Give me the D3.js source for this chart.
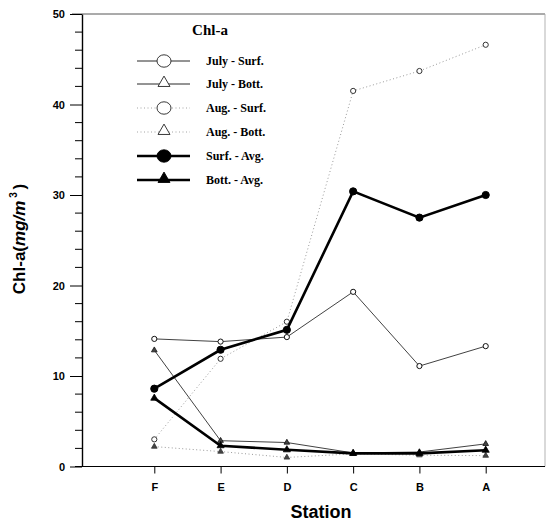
<!DOCTYPE html>
<html>
<head>
<meta charset="utf-8">
<script src="https://cdn.jsdelivr.net/npm/d3@7"></script>
<style>
  body { margin: 0; background: #fff; }
  svg { display: block; }
</style>
</head>
<body>
<div id="chart"></div>
<script>
// values (Chl-a, mg/m3)
const stations = ["F", "E", "D", "C", "B", "A"];
const julySurf = [14.1, 13.8, 14.3, 19.3, 11.1, 13.3];
const julyBott = [12.85, 2.85, 2.65, 1.5, 1.6, 2.5];
const augSurf = [3.0, 11.9, 16.0, 41.5, 43.7, 46.6];
const augBott = [2.2, 1.65, 1.0, 1.4, 1.25, 1.2];
const surfAvg = [8.6, 12.9, 15.1, 30.4, 27.5, 30.0];
const bottAvg = [7.55, 2.3, 1.85, 1.45, 1.45, 1.8];
const yTicks = [0, 10, 20, 30, 40, 50];
const yMinorTicks = d3.range(0, 51, 2);
const legendTitle = "Chl-a";
const legendLabels = ["July - Surf.", "July - Bott.", "Aug. - Surf.", "Aug. - Bott.", "Surf. - Avg.", "Bott. - Avg."];

const W = 547, H = 523;
const plotLeft = 82, plotRight = 545, plotTop = 14, plotBottom = 466.5;

const svg = d3.select("#chart").append("svg")
  .attr("width", W)
  .attr("height", H);

svg.append("rect").attr("width", W).attr("height", H).attr("fill", "#fff");

const x = d3.scalePoint().domain(stations).range([154.3, 485.7]);
const y = d3.scaleLinear().domain([0, 50]).range([plotBottom, plotTop]);

// series styling
const series = [
  { name: legendLabels[2], values: augSurf, marker: "circle", fill: "#fff", stroke: "#9a9a9a", width: 1, dash: "1,2.5", mstroke: "#333" },
  { name: legendLabels[3], values: augBott, marker: "triangle", fill: "#fff", stroke: "#9a9a9a", width: 1, dash: "1,2.5", mstroke: "#333" },
  { name: legendLabels[0], values: julySurf, marker: "circle", fill: "#fff", stroke: "#111", width: 0.8, dash: null, mstroke: "#111" },
  { name: legendLabels[1], values: julyBott, marker: "triangle", fill: "#fff", stroke: "#111", width: 0.8, dash: null, mstroke: "#111" },
  { name: legendLabels[4], values: surfAvg, marker: "circle", fill: "#000", stroke: "#000", width: 2.6, dash: null, mstroke: "#000" },
  { name: legendLabels[5], values: bottAvg, marker: "triangle", fill: "#000", stroke: "#000", width: 2.6, dash: null, mstroke: "#000" }
];

// frame (top and right edges, faint in the scan)
svg.append("line").attr("x1", 72).attr("x2", plotRight).attr("y1", plotTop).attr("y2", plotTop)
  .attr("stroke", "#444").attr("stroke-width", 0.9);
svg.append("line").attr("x1", plotRight).attr("x2", plotRight).attr("y1", plotTop).attr("y2", plotBottom)
  .attr("stroke", "#aaa").attr("stroke-width", 0.9);

// y axis
const yAxis = svg.append("g")
  .attr("transform", `translate(${plotLeft},0)`)
  .call(d3.axisLeft(y).tickValues(yTicks).tickSize(12).tickPadding(5).tickSizeOuter(0));
yAxis.select(".domain").attr("stroke-width", 1.4);
yAxis.selectAll("text")
  .attr("font-family", "Liberation Sans, Arial, sans-serif")
  .attr("font-weight", "bold").attr("font-size", 11);

svg.append("g").selectAll("line")
  .data(yMinorTicks.filter(v => v % 10 !== 0))
  .join("line")
  .attr("x1", plotLeft - 7).attr("x2", plotLeft)
  .attr("y1", d => y(d)).attr("y2", d => y(d))
  .attr("stroke", "#000").attr("stroke-width", 1);

// x axis
svg.append("line").attr("x1", 75).attr("x2", plotRight).attr("y1", plotBottom).attr("y2", plotBottom)
  .attr("stroke", "#000").attr("stroke-width", 1.2);
const xAxis = svg.append("g")
  .attr("transform", `translate(0,${plotBottom})`)
  .call(d3.axisBottom(x).tickSize(7).tickPadding(10).tickSizeOuter(0));
xAxis.select(".domain").remove();
xAxis.selectAll("text")
  .attr("font-family", "Liberation Sans, Arial, sans-serif")
  .attr("font-weight", "bold").attr("font-size", 11);

// axis titles
svg.append("text")
  .attr("x", 321).attr("y", 518)
  .attr("text-anchor", "middle")
  .attr("font-family", "Liberation Sans, Arial, sans-serif")
  .attr("font-weight", "bold").attr("font-size", 18)
  .text("Station");

const yTitle = svg.append("text")
  .attr("transform", "translate(25,239) rotate(-90)")
  .attr("text-anchor", "middle")
  .attr("font-family", "Liberation Sans, Arial, sans-serif")
  .attr("font-weight", "bold").attr("font-size", 17);
yTitle.append("tspan").text("Chl-a(");
yTitle.append("tspan").attr("font-style", "italic").text("mg/m");
yTitle.append("tspan").attr("dy", -8).attr("font-size", 10).text(" 3 ");
yTitle.append("tspan").attr("dy", 8).text(")");

// lines and markers
const line = d3.line().x((d, i) => x(stations[i])).y(d => y(d));
const tri = d3.symbol().type(d3.symbolTriangle);

series.forEach(s => {
  svg.append("path")
    .datum(s.values)
    .attr("d", line)
    .attr("fill", "none")
    .attr("stroke", s.stroke)
    .attr("stroke-width", s.width)
    .attr("stroke-dasharray", s.dash);

  const g = svg.append("g");
  if (s.marker === "circle") {
    g.selectAll("circle").data(s.values).join("circle")
      .attr("cx", (d, i) => x(stations[i]))
      .attr("cy", d => y(d))
      .attr("r", s.fill === "#000" ? 3.6 : 2.6)
      .attr("fill", s.fill)
      .attr("stroke", s.mstroke)
      .attr("stroke-width", 1);
  } else {
    g.selectAll("path").data(s.values).join("path")
      .attr("d", tri.size(s.fill === "#000" ? 22 : 14))
      .attr("transform", (d, i) => `translate(${x(stations[i])},${y(d)})`)
      .attr("fill", s.fill === "#000" ? "#000" : "#444")
      .attr("stroke", s.mstroke)
      .attr("stroke-width", 0.8);
  }
});

// legend
const serif = "Liberation Serif, Times New Roman, serif";
svg.append("text")
  .attr("x", 210).attr("y", 35)
  .attr("text-anchor", "middle")
  .attr("font-family", serif)
  .attr("font-weight", "bold").attr("font-size", 15)
  .text(legendTitle);

const legendOrder = [2, 3, 0, 1, 4, 5]; // index into series, in legend order
const rowY = [61, 84, 108, 132, 156, 180];
const legend = svg.append("g");
legendOrder.forEach((si, r) => {
  const s = series[si];
  const ly = rowY[r];
  legend.append("line")
    .attr("x1", 137).attr("x2", 190).attr("y1", ly).attr("y2", ly)
    .attr("stroke", s.stroke)
    .attr("stroke-width", s.width === 2.6 ? 2.4 : 0.9)
    .attr("stroke-dasharray", s.dash);
  if (s.marker === "circle") {
    legend.append("ellipse")
      .attr("cx", 164).attr("cy", ly)
      .attr("rx", 7).attr("ry", 6.2)
      .attr("fill", s.fill)
      .attr("stroke", s.fill === "#000" ? "#000" : "#222")
      .attr("stroke-width", 0.9);
  } else {
    legend.append("path")
      .attr("d", d3.symbol().type(d3.symbolTriangle).size(62)())
      .attr("transform", `translate(164,${ly - 1})`)
      .attr("fill", s.fill)
      .attr("stroke", s.fill === "#000" ? "#000" : "#222")
      .attr("stroke-width", 0.9);
  }
  legend.append("text")
    .attr("x", 206).attr("y", ly + 4)
    .attr("font-family", serif)
    .attr("font-weight", "bold").attr("font-size", 12)
    .text(s.name);
});
</script>
</body>
</html>
